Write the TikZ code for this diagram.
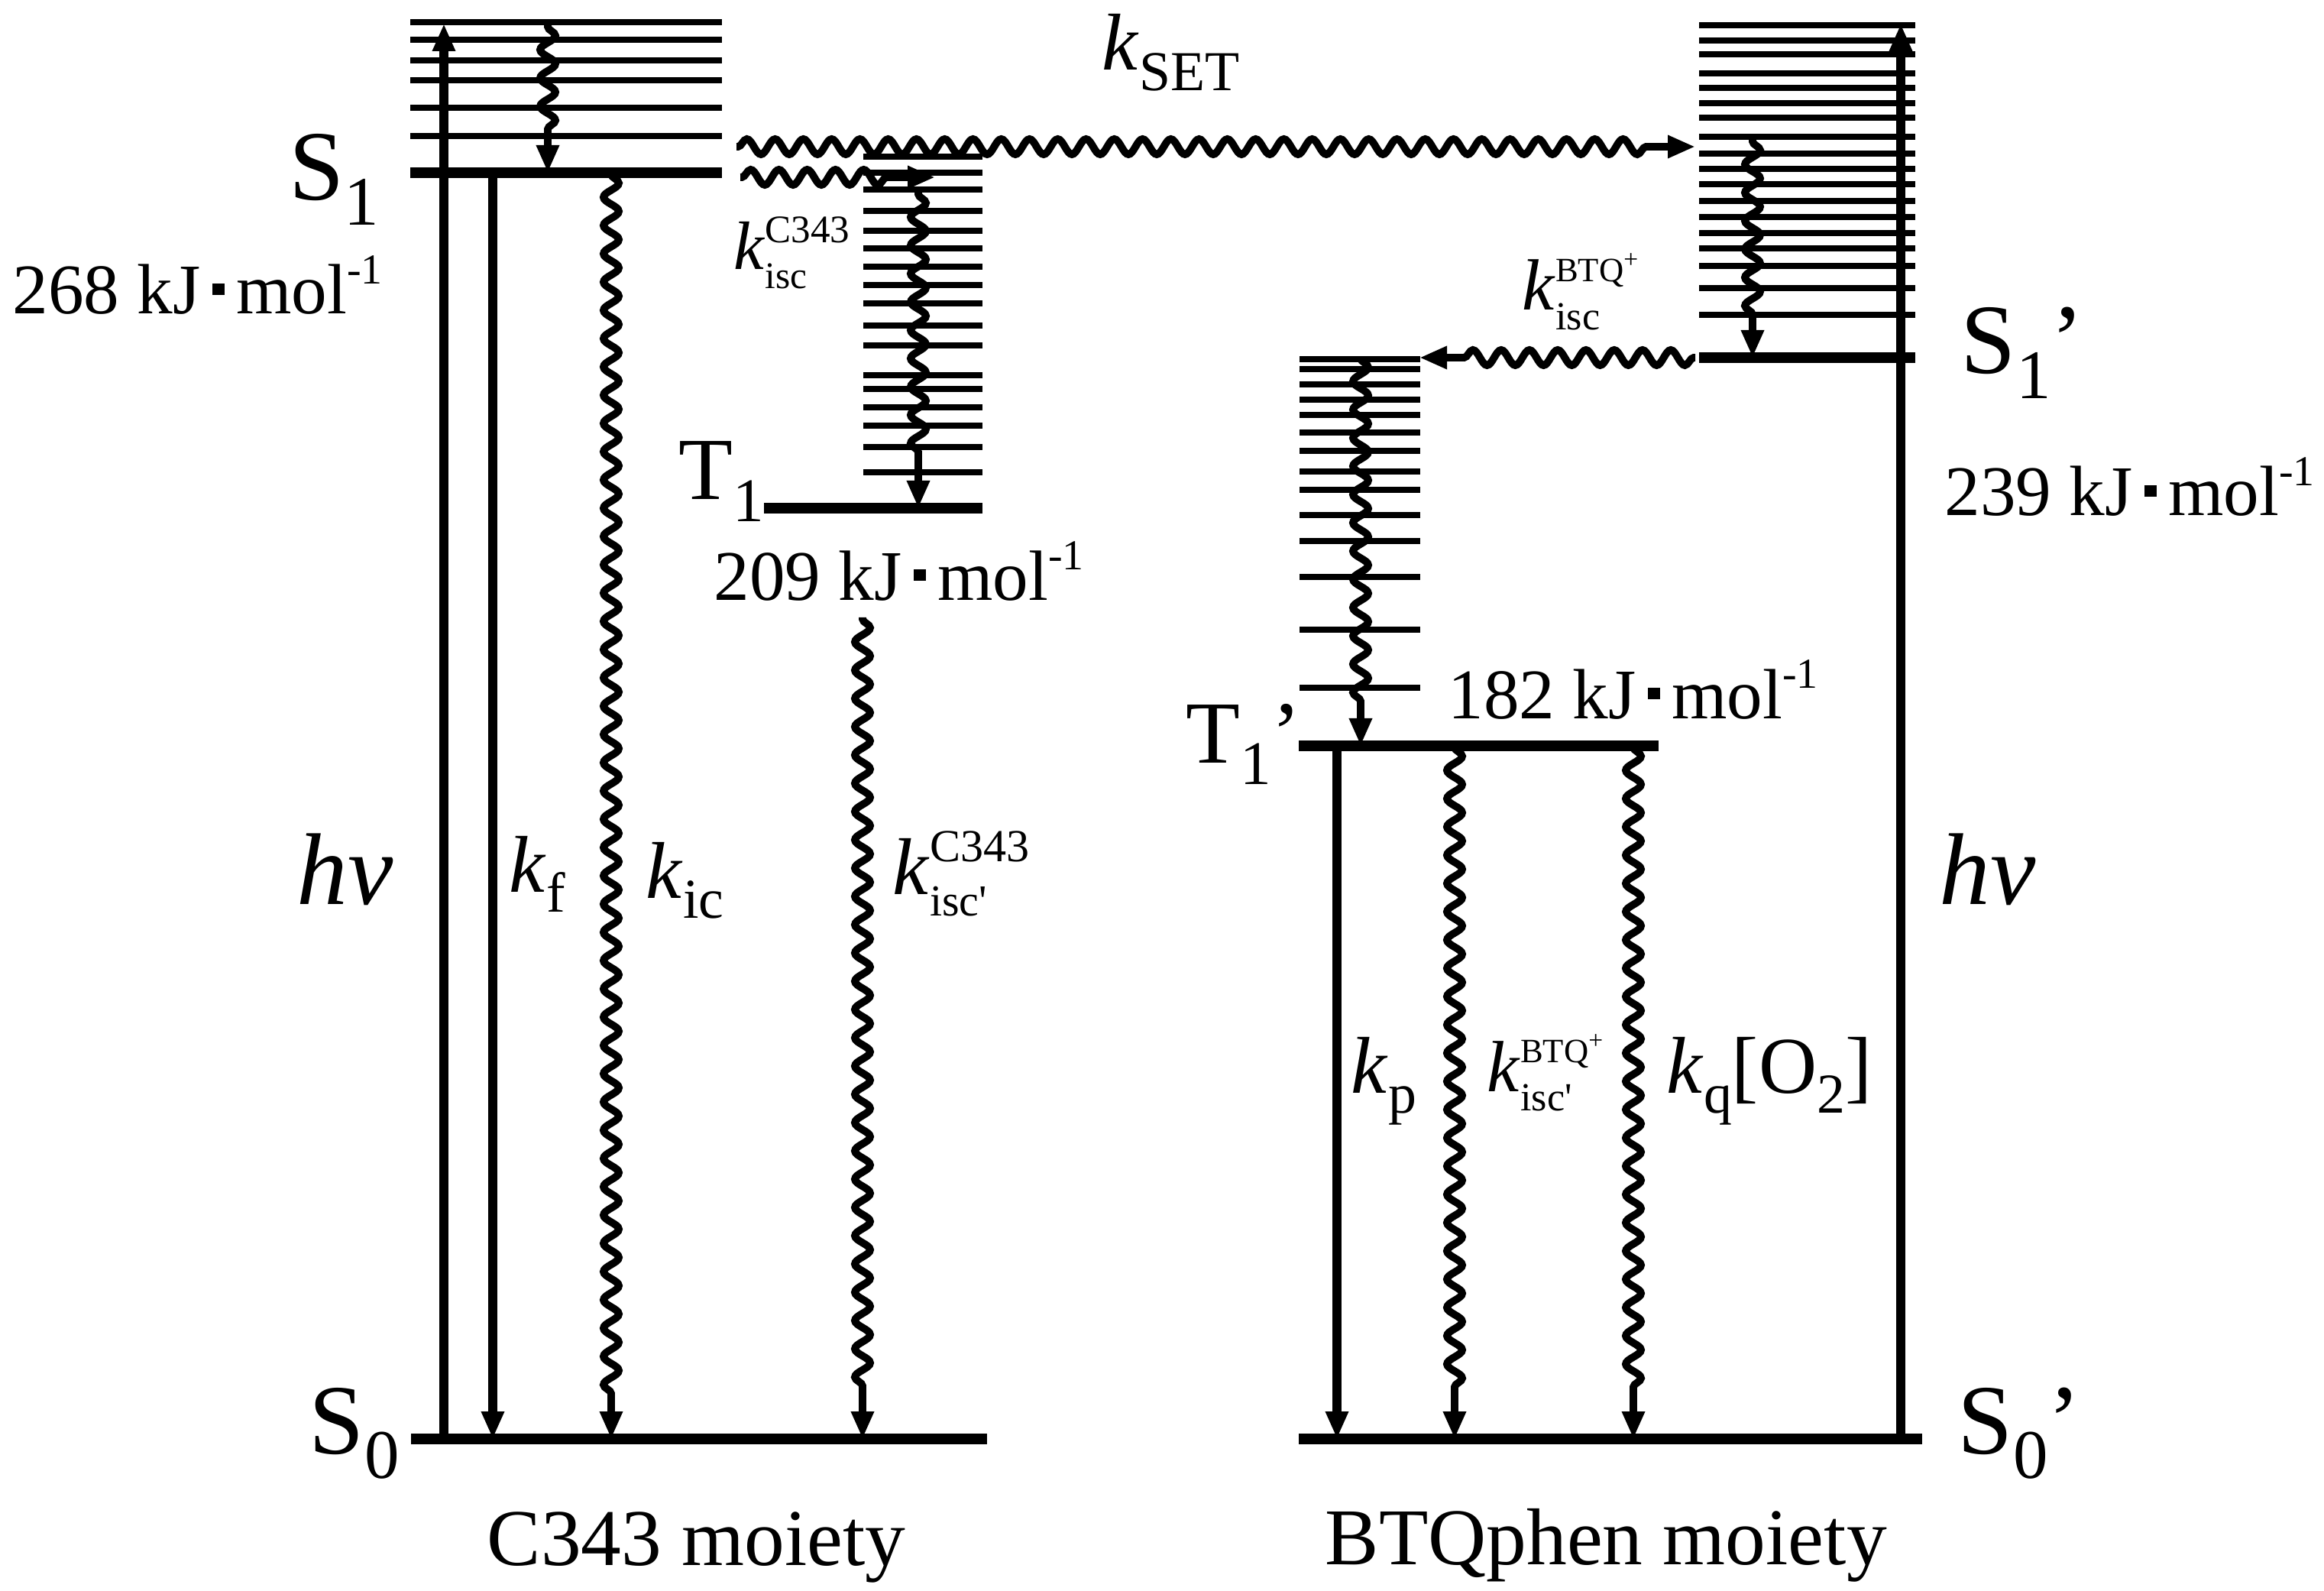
\documentclass[tikz,border=0pt]{standalone}
\usepackage{graphicx}
\usepackage{fontspec}
\setmainfont{Liberation Serif}
\usetikzlibrary{arrows.meta,decorations.pathmorphing}

\newcommand{\lo}[2][0.7]{\raisebox{-0.25em}{\scalebox{#1}{#2}}}
\newcommand{\hi}[2][0.6]{\raisebox{0.42em}{\scalebox{#1}{#2}}}
\newcommand{\sq}{\raisebox{0.27em}{\rule{0.17em}{0.16em}}}
\newcommand{\ener}[1]{#1 kJ\,\sq\,mol\hi{-1}}
\newcommand{\kk}[3][0.55]{\textit{k}\makebox[0pt][l]{\raisebox{-0.27em}{\scalebox{0.55}{#2}}}\raisebox{0.4em}{\scalebox{#1}{#3}}}
\newcommand{\plus}{\raisebox{0.4em}{\scalebox{0.75}{+}}}

\begin{document}
\begin{tikzpicture}[
  y=-1cm,
  font=\fontsize{30}{32}\selectfont,
  lvl/.style={line width=2pt},
  gnd/.style={line width=4pt},
  arr/.style={line width=3.3pt, -{Triangle[length=0.36cm,width=0.28cm]}},
  wave/.style={arr, line width=2.8pt, decorate, decoration={snake, segment length=0.37cm, amplitude=0.1cm, pre length=0.02cm, post length=0.55cm}},
  state/.style={inner sep=0pt, font=\fontsize{37}{40}\selectfont},
  trip/.style={inner sep=0pt, font=\fontsize{33}{36}\selectfont},
  rate/.style={inner sep=0pt},
  ener/.style={inner sep=0pt, font=\fontsize{26.5}{28}\selectfont},
  hv/.style={inner sep=0pt, font=\fontsize{38}{40}\selectfont},
]
\useasboundingbox (0,0) rectangle (30.42,20.82);

\coordinate (S1) at (0,2.26);
\coordinate (T1) at (0,6.65);
\coordinate (S0) at (0,18.83);
\coordinate (S1p) at (0,4.68);
\coordinate (T1p) at (0,9.76);

% ---- left: C343 moiety ----
\begin{scope}
  \foreach \y in {0.29,0.52,0.79,1.05,1.41,1.78}
    \draw[lvl] (5.37,\y) -- (9.45,\y);
  \draw[gnd] (5.37,0 |- S1) -- (9.45,0 |- S1);
  \foreach \y in {2.05,2.26,2.48,2.76,3.02,3.25,3.49,3.73,3.97,4.26,4.52,4.91,5.09,5.33,5.57,5.85,6.18}
    \draw[lvl] (11.30,\y) -- (12.86,\y);
  \draw[gnd] (10.00,0 |- T1) -- (12.86,0 |- T1);
  \draw[gnd] (5.38,0 |- S0) -- (12.92,0 |- S0);

  \draw[arr]  (5.81,0 |- S0) -- (5.81,0.31);
  \draw[arr]  (6.45,0 |- S1) -- (6.45,0 |- S0);
  \draw[wave] (7.17,0.33) -- (7.17,0 |- S1);
  \draw[wave] (8.00,0 |- S1) -- (8.00,0 |- S0);
  \draw[wave] (9.69,2.32) -- (12.24,2.32);
  \draw[wave] (12.02,2.52) -- (12.02,0 |- T1);
  \draw[wave] (11.29,8.08) -- (11.29,0 |- S0);

  \node[state, anchor=base east] (S1lab) at (4.97,2.62) {S\lo{1}};
  \node[ener, anchor=base west] (E268) at (0.16,4.11) {\ener{268}};
  \node[trip, anchor=base west] (T1lab) at (8.88,6.54) {T\lo{1}};
  \node[ener, anchor=base west] (E209) at (9.34,7.85) {\ener{209}};
  \node[rate, anchor=base west, font=\fontsize{25.5}{28}\selectfont] (kisc) at (9.60,3.53) {\kk[0.57]{isc}{C343}};
  \node[hv, anchor=base west] (hv) at (3.88,11.83) {\textit{hν}};
  \node[rate, anchor=base west] (kf) at (6.66,11.67) {\textit{k}\lo{f}};
  \node[rate, anchor=base west] (kic) at (8.45,11.75) {\textit{k}\lo{ic}};
  \node[rate, anchor=base west] (kiscp) at (11.68,11.70) {\kk[0.57]{isc\textquotesingle}{C343}};
  \node[state, anchor=base west] (S0lab) at (4.04,19.02) {S\lo{0}};
  \node[rate, anchor=base west] (C343) at (6.37,20.48) {C343 moiety};
\end{scope}

% ---- electron transfer ----
\draw[wave] (9.64,1.92) -- (22.19,1.92);
\node[rate, anchor=base west] (kset) at (14.42,0.92) {\textit{k}\lo{SET}};

% ---- right: BTQphen moiety ----
\begin{scope}
  \foreach \y in {0.33,0.53,0.71,0.96,1.15,1.35,1.54,1.79,2.01,2.21,2.41,2.63,2.84,3.05,3.25,3.48,3.77,4.12}
    \draw[lvl] (22.24,\y) -- (25.07,\y);
  \draw[gnd] (22.24,0 |- S1p) -- (25.07,0 |- S1p);
  \foreach \y in {4.70,4.83,5.03,5.23,5.43,5.66,5.90,6.17,6.41,6.74,7.08,7.55,8.24,9.00}
    \draw[lvl] (17.01,\y) -- (18.59,\y);
  \draw[gnd] (17.00,0 |- T1p) -- (21.71,0 |- T1p);
  \draw[gnd] (17.00,0 |- S0) -- (25.16,0 |- S0);

  \draw[arr]  (24.88,0 |- S0) -- (24.88,0.31);
  \draw[wave] (22.94,1.83) -- (22.94,0 |- S1p);
  \draw[wave] (22.19,0 |- S1p) -- (18.58,0 |- S1p);
  \draw[wave] (17.81,4.67) -- (17.81,0 |- T1p);
  \draw[arr]  (17.50,0 |- T1p) -- (17.50,0 |- S0);
  \draw[wave] (19.04,0 |- T1p) -- (19.04,0 |- S0);
  \draw[wave] (21.38,0 |- T1p) -- (21.38,0 |- S0);

  \node[state, anchor=base west] (S1plab) at (25.66,4.89) {S\lo{1}’};
  \node[ener, anchor=base west] (E239) at (25.45,6.75) {\ener{239}};
  \node[rate, anchor=base west, font=\fontsize{27}{29}\selectfont] (kbtq) at (19.92,4.06) {\kk[0.47]{isc}{BTQ\plus}};
  \node[trip, anchor=base west] (T1plab) at (15.52,9.98) {T\lo{1}’};
  \node[ener, anchor=base west] (E182) at (18.95,9.40) {\ener{182}};
  \node[hv, anchor=base west] (hvp) at (25.38,11.83) {\textit{hν}};
  \node[rate, anchor=base west] (kp) at (17.68,14.30) {\textit{k}\lo{p}};
  \node[rate, anchor=base west, font=\fontsize{27}{29}\selectfont] (kbtqp) at (19.46,14.28) {\kk[0.47]{isc\textquotesingle}{BTQ\plus}};
  \node[rate, anchor=base west] (kq) at (21.81,14.30) {\textit{k}\lo{q}[O\lo{2}]};
  \node[state, anchor=base west] (S0plab) at (25.62,19.02) {S\lo{0}’};
  \node[rate, anchor=base west] (BTQ) at (17.34,20.47) {BTQphen moiety};
\end{scope}
\end{tikzpicture}
\end{document}
